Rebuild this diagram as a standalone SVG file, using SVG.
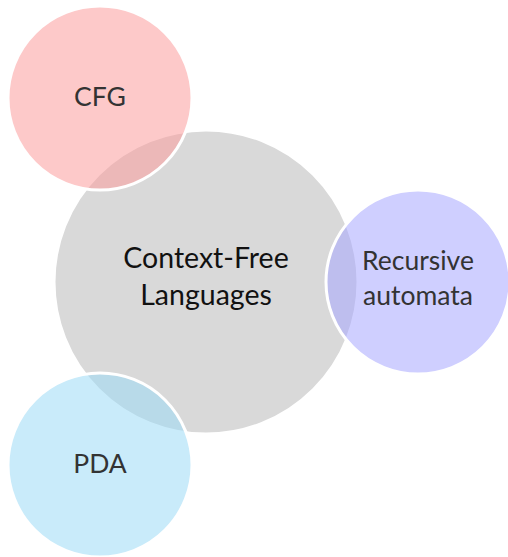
<svg xmlns="http://www.w3.org/2000/svg" width="508" height="557" viewBox="0 0 508 557">
  <style>
    .hub { fill: #d9d9d9; stroke: #ffffff; stroke-width: 3; }
    .sat { stroke: #ffffff; stroke-width: 3; }
    .lbl { font-family: Lato, "Open Sans", sans-serif; font-size: 26.5px; fill: #333333; text-anchor: middle; }
    .hublbl { font-family: Lato, "Open Sans", sans-serif; font-size: 28.5px; fill: #111111; text-anchor: middle; }
  </style>
  <rect width="508" height="557" fill="#ffffff"/>
  <g id="hub">
    <circle class="hub" cx="206" cy="282" r="152"/>
    <text class="hublbl" x="206" y="268">Context-Free</text>
    <text class="hublbl" x="206" y="305">Languages</text>
  </g>
  <g id="cfg">
    <circle class="sat" cx="100" cy="98" r="92" fill="#fc9c9c" fill-opacity="0.55"/>
    <text class="lbl" x="100" y="106">CFG</text>
  </g>
  <g id="recursive">
    <circle class="sat" cx="418" cy="282" r="92" fill="#a8a8ff" fill-opacity="0.55"/>
    <text class="lbl" x="418" y="270">Recursive</text>
    <text class="lbl" x="418" y="305">automata</text>
  </g>
  <g id="pda">
    <circle class="sat" cx="100" cy="465" r="92" fill="#9cdbf5" fill-opacity="0.55"/>
    <text class="lbl" x="100" y="473">PDA</text>
  </g>
  <g id="connectors"/>
</svg>
